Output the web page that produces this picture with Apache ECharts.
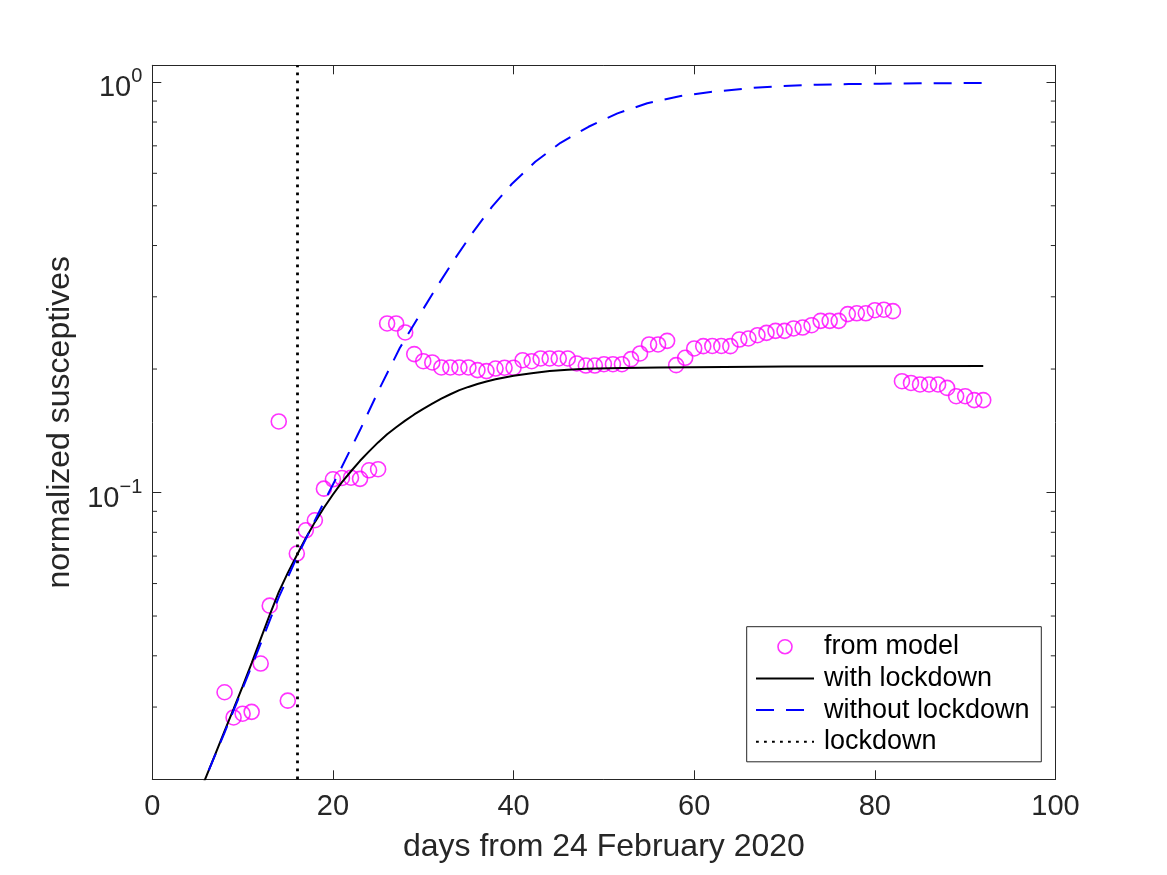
<!DOCTYPE html>
<html>
<head>
<meta charset="utf-8">
<script src="https://cdn.jsdelivr.net/npm/echarts@6/dist/echarts.min.js"></script>
<style>
html,body{margin:0;padding:0;background:#fff;}
#chart{width:1167px;height:875px;}
</style>
</head>
<body>
<div id="chart"></div>
<script>
// ---------- data ----------
const modelDays = [8,9,10,11,12,13,14,15,16,17,18,19,20,21,22,23,24,25,26,27,28,29,30,31,32,33,34,35,36,37,38,39,40,41,42,43,44,45,46,47,48,49,50,51,52,53,54,55,56,57,58,59,60,61,62,63,64,65,66,67,68,69,70,71,72,73,74,75,76,77,78,79,80,81,82,83,84,85,86,87,88,89,90,91,92];
const modelValues = [0.0326,0.0283,0.0289,0.0292,0.0383,0.0530,0.149,0.0311,0.0710,0.0809,0.0856,0.1022,0.1077,0.1085,0.1087,0.1080,0.1133,0.1140,0.2583,0.2583,0.2456,0.2175,0.2090,0.2075,0.2018,0.2018,0.2018,0.2018,0.1988,0.1977,0.2006,0.2015,0.2015,0.2102,0.2090,0.2122,0.2122,0.2122,0.2122,0.2064,0.2040,0.2040,0.2055,0.2055,0.2055,0.2114,0.2183,0.2296,0.2296,0.2343,0.2044,0.2130,0.2245,0.2274,0.2277,0.2277,0.2274,0.2360,0.2374,0.2418,0.2450,0.2478,0.2478,0.2512,0.2525,0.2558,0.2621,0.2621,0.2621,0.2722,0.2735,0.2735,0.2783,0.2790,0.2768,0.1868,0.1850,0.1834,0.1834,0.1834,0.1799,0.1717,0.1717,0.1680,0.1680];

const withDays = [5,6,7,8,9,10,11,12,13,14,15,16,17,18,19,20,21,22,23,24,25,26,27,28,29,30,31,32,33,34,35,36,37,38,39,40,42,44,46,48,52,56,60,70,80,92];
const withValues = [0.0180,0.0204,0.0231,0.0262,0.0297,0.0337,0.0384,0.0440,0.0503,0.0572,0.0637,0.0703,0.0775,0.0847,0.0918,0.0989,0.1060,0.1127,0.1195,0.1260,0.1325,0.1387,0.1443,0.1497,0.1550,0.1600,0.1647,0.1694,0.1736,0.1777,0.1809,0.1839,0.1865,0.1888,0.1908,0.1925,0.1954,0.1977,0.1993,0.2002,0.2011,0.2017,0.2020,0.2028,0.2031,0.2033];

const withoutDays = [5,6,8,10,12,14,16,18,19.3,20.8,23,25.2,27.4,29.7,31.5,33.4,35.4,37.6,39.8,42.4,45.2,48.3,51.5,54.8,58.5,61.8,66.6,69.9,73.6,77.1,80.6,85,92];
const withoutValues = [0.0180,0.0204,0.0260,0.0333,0.0428,0.0555,0.0695,0.0855,0.0976,0.1133,0.1420,0.1800,0.2250,0.2733,0.3172,0.3686,0.4280,0.4970,0.5650,0.6400,0.7120,0.7790,0.8400,0.8890,0.9260,0.9470,0.9700,0.9790,0.9865,0.9900,0.9920,0.9940,0.9965];

const lockdownDay = 16;

const xMin = 0, xMax = 100, xStep = 20;
const yMin = 0.02, yMax = 1.1;

const seriesNames = ['from model', 'with lockdown', 'without lockdown', 'lockdown'];
const xLabel = 'days from 24 February 2020';
const yLabel = 'normalized susceptives';

// ---------- chart ----------
const FONT = '"Liberation Sans", Arial, Helvetica, sans-serif';
const AX = '#262626';
const chart = echarts.init(document.getElementById('chart'), null, {renderer: 'canvas'});

const pairs = (xs, ys) => xs.map((x, i) => [x, ys[i]]);

const option = {
  animation: false,
  backgroundColor: '#ffffff',
  grid: {left: 152.3, top: 65.3, right: 111.5, bottom: 95.7, containLabel: false},
  xAxis: [
    {
      type: 'value', position: 'bottom', min: xMin, max: xMax, interval: xStep,
      name: xLabel, nameLocation: 'middle', nameGap: 52,
      nameTextStyle: {fontFamily: FONT, fontSize: 32, color: AX},
      axisLine: {show: true, onZero: false, lineStyle: {color: AX, width: 1}},
      axisTick: {show: true, inside: true, length: 9, lineStyle: {color: AX, width: 1}},
      axisLabel: {show: true, margin: 13, fontFamily: FONT, fontSize: 29, color: AX},
      splitLine: {show: false}
    },
    {
      type: 'value', position: 'top', min: xMin, max: xMax, interval: xStep,
      axisLine: {show: true, onZero: false, lineStyle: {color: AX, width: 1}},
      axisTick: {show: true, inside: true, length: 9, lineStyle: {color: AX, width: 1}},
      axisLabel: {show: false},
      splitLine: {show: false}
    }
  ],
  yAxis: [
    {
      type: 'log', logBase: 10, position: 'left', min: yMin, max: yMax,
      name: yLabel, nameLocation: 'middle', nameGap: 74,
      nameTextStyle: {fontFamily: FONT, fontSize: 32, color: AX},
      axisLine: {show: true, onZero: false, lineStyle: {color: AX, width: 1}},
      axisTick: {show: true, inside: true, length: 9, lineStyle: {color: AX, width: 1}},
      axisLabel: {
        show: true, margin: 10, padding: [5, 0, 0, 0],
        showMinLabel: true, showMaxLabel: true,
        formatter: function (v) {
          const e = Math.log10(v), r = Math.round(e);
          if (Math.abs(e - r) > 1e-6) return '';
          return '{b|10}{s|' + (r < 0 ? '\u2212' : '') + Math.abs(r) + '}';
        },
        rich: {
          b: {fontFamily: FONT, fontSize: 29, lineHeight: 36, color: AX, verticalAlign: 'bottom'},
          s: {fontFamily: FONT, fontSize: 20, lineHeight: 20, color: AX, verticalAlign: 'top'}
        }
      },
      splitLine: {show: false}
    },
    {
      type: 'log', logBase: 10, position: 'right', min: yMin, max: yMax,
      axisLine: {show: true, onZero: false, lineStyle: {color: AX, width: 1}},
      axisTick: {show: true, inside: true, length: 9, lineStyle: {color: AX, width: 1}},
      axisLabel: {show: false},
      splitLine: {show: false}
    }
  ],
  legend: {
    orient: 'vertical', left: 746.7, top: 626.7,
    padding: [6.5, 11.7, 6.5, 8.3],
    itemGap: 4.7, itemWidth: 58, itemHeight: 14,
    borderColor: AX, borderWidth: 1, backgroundColor: '#ffffff',
    textStyle: {fontFamily: FONT, fontSize: 27, color: '#000', padding: [0, 0, 0, 5]},
    selectedMode: false,
    data: [
      {name: seriesNames[0], icon: 'circle', itemStyle: {color: 'rgba(0,0,0,0)', borderColor: '#ff00ff', borderWidth: 1.6}},
      {name: seriesNames[1], itemStyle: {opacity: 0}},
      {name: seriesNames[2], itemStyle: {opacity: 0}},
      {name: seriesNames[3], itemStyle: {opacity: 0}}
    ]
  },
  series: [
    {
      name: seriesNames[0], type: 'scatter', xAxisIndex: 0, yAxisIndex: 0,
      data: pairs(modelDays, modelValues),
      symbol: 'circle', symbolSize: 15,
      itemStyle: {color: 'rgba(0,0,0,0)', borderColor: '#ff00ff', borderWidth: 1.6},
      z: 3
    },
    {
      name: seriesNames[1], type: 'line', xAxisIndex: 0, yAxisIndex: 0,
      data: pairs(withDays, withValues),
      symbol: 'none', smooth: false,
      lineStyle: {color: '#000000', width: 2},
      itemStyle: {color: '#000000'},
      z: 4
    },
    {
      name: seriesNames[2], type: 'line', xAxisIndex: 0, yAxisIndex: 0,
      data: pairs(withoutDays, withoutValues),
      symbol: 'none', smooth: false,
      lineStyle: {color: '#0000ff', width: 2, type: [18, 12]},
      itemStyle: {color: '#0000ff'},
      z: 4
    },
    {
      name: seriesNames[3], type: 'line', xAxisIndex: 0, yAxisIndex: 0,
      data: [],
      symbol: 'none',
      lineStyle: {color: '#000000', width: 2.8, type: [2.8, 5.2]},
      itemStyle: {color: '#000000'},
      markLine: {
        silent: true, symbol: ['none', 'none'],
        label: {show: false},
        lineStyle: {color: '#000000', width: 2.8, type: [2.8, 5.2]},
        data: [{xAxis: lockdownDay}]
      },
      z: 5
    }
  ]
};

chart.setOption(option);

// minor ticks of the log axis at 2..9 x 10^k, placed through the axis scale
const minorVals = [];
for (let k = -2; k <= 0; k++) {
  for (let m = 2; m <= 9; m++) {
    const v = m * Math.pow(10, k);
    if (v > yMin * 1.0001 && v < yMax) minorVals.push(v);
  }
}
const xl = chart.convertToPixel({xAxisIndex: 0}, xMin);
const xr = chart.convertToPixel({xAxisIndex: 0}, xMax);
const g = [];
minorVals.forEach(function (v) {
  const py = chart.convertToPixel({yAxisIndex: 0}, v);
  g.push({type: 'line', silent: true, shape: {x1: xl, y1: py, x2: xl + 4.7, y2: py}, style: {stroke: AX, lineWidth: 1}, z: 10});
  g.push({type: 'line', silent: true, shape: {x1: xr, y1: py, x2: xr - 4.7, y2: py}, style: {stroke: AX, lineWidth: 1}, z: 10});
});
chart.setOption({graphic: g});
</script>
</body>
</html>
